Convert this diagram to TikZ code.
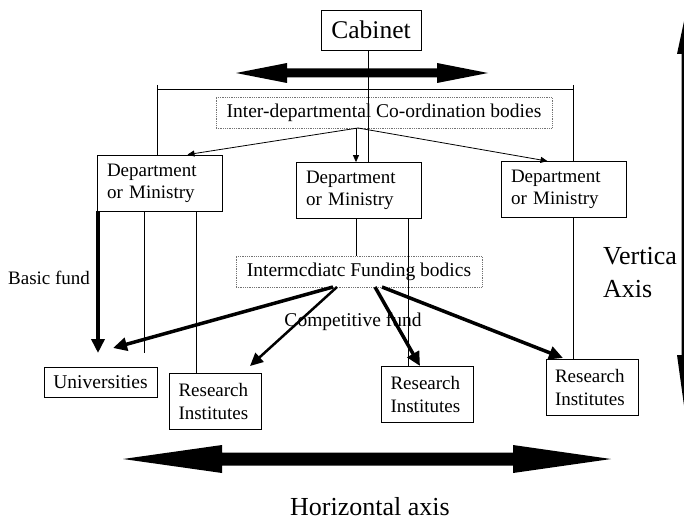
\documentclass[tikz,border=0pt]{standalone}
\usepackage{fontspec}
\setmainfont{Liberation Serif}
\usetikzlibrary{arrows.meta,calc}
\begin{document}
\begin{tikzpicture}[x=1pt,y=-1pt,
  box/.style={draw, line width=0.8pt, inner sep=0pt},
  dbox/.style={draw=black!55, densely dotted, line width=0.8pt, inner sep=0pt},
  dept/.style={box, minimum width=125pt, minimum height=56pt, text width=105pt, inner xsep=10pt, align=left, font=\fontsize{19}{22}\selectfont},
  ri/.style={box, minimum height=56pt, text width=74pt, inner xsep=9pt, align=left, font=\fontsize{19}{23}\selectfont},
  mid/.style={font=\fontsize{19.5}{23}\selectfont},
  big/.style={font=\fontsize{26}{33}\selectfont},
  thin/.style={line width=0.7pt},
  tarr/.style={line width=0.8pt, -{Triangle[length=7pt,width=6pt]}},
  barr/.style={line width=3.5pt, -{Triangle[length=14pt,width=13pt]}},
  marr/.style={line width=2.5pt, -{Triangle[length=13pt,width=12pt]}},
  ]
\useasboundingbox (0,0) rectangle (684,524);
\clip (0,0) rectangle (684,524);
\fill[white] (0,0) rectangle (684,524);

% big double arrows (decorative shapes)
\fill (236,73) -- (287,63) -- (287,68.5) -- (437,68.5) -- (437,63) -- (488,73)
  -- (437,83) -- (437,77.5) -- (287,77.5) -- (287,83) -- cycle;
\fill (123,459) -- (222,445) -- (222,452.5) -- (513,452.5) -- (513,445) -- (611,459)
  -- (513,473) -- (513,465.5) -- (222,465.5) -- (222,473) -- cycle;
\fill (686,12) -- (677,54) -- (681.5,54) -- (681.5,355) -- (677,355) -- (686,420)
  -- (695,355) -- (690.5,355) -- (690.5,54) -- (695,54) -- cycle;

% nodes
\node[box, minimum width=100pt, minimum height=40pt, font=\fontsize{25.5}{30}\selectfont] (cab) at (371,30) {Cabinet};
\node[dbox, mid, minimum width=336pt, minimum height=31pt] (idc) at (384,112.5) {Inter-departmental Co-ordination bodies};
\node[dept] (d1) at (159.5,183) {Department\\or Ministry};
\node[dept] (d2) at (358.5,190.5) {Department\\or Ministry};
\node[dept] (d3) at (563.5,189.5) {Department\\or Ministry};
\node[dbox, mid, minimum width=246pt, minimum height=31pt] (ifb) at (359,271.5) {Intermcdiatc Funding bodics};
\node[box, mid, minimum width=113pt, minimum height=30pt] (uni) at (100.5,382) {Universities};
\node[ri] (r1) at (215.5,401) {Research\\Institutes};
\node[ri] (r2) at (427.5,394) {Research\\Institutes};
\node[ri] (r3) at (592,387.5) {Research\\Institutes};

% labels
\node[font=\fontsize{19}{22}\selectfont, anchor=west, inner sep=0pt] (bf) at (8,278) {Basic fund};
\node[mid, inner sep=0pt] (cf) at (353,322) {Competitive fund};
\node[big, align=left, anchor=west, inner sep=0pt] (va) at (603,273) {Vertica\\Axis};
\node[big, inner sep=0pt] (ha) at (370,507) {Horizontal axis};

% coordinates
\coordinate (bl) at (157,89);
\coordinate (br) at (573,89);
\coordinate (cl) at (368,0);
\coordinate (ia) at (358,128);
\coordinate (ia2) at (356,128);
\coordinate (bft) at (98,353);
\coordinate (l1) at (144,353);
\coordinate (l2) at (196,0);
\coordinate (l3) at (408,0);
\coordinate (f1) at (333,287);
\coordinate (f2) at (337,287);
\coordinate (f3) at (375,287);
\coordinate (f4) at (382,287);
\coordinate (t1) at (113,348);
\coordinate (t2) at (250,366);
\coordinate (t3) at (420,366);
\coordinate (t4) at (563,358);

% cabinet line and bracket
\draw[thin] (cab.south -| cl) -- (d2.north -| cl);
\draw[thin] (bl) -- (br);
\draw[thin] ($(bl)+(0,-4)$) -- (d1.north -| bl);
\draw[thin] ($(br)+(0,-4)$) -- (d3.north -| br);

% co-ordination arrows
\draw[tarr] (ia) -- ($(d1.north)+(28,0)$);
\draw[tarr] (ia2) -- (d2.north -| ia2);
\draw[tarr] (ia) -- ($(d3.north)+(-16,0)$);

% vertical lines
\draw[barr] (d1.south -| bft) -- (bft);
\draw[thin] (d1.south -| l1) -- (l1);
\draw[thin] (d1.south -| l2) -- (r1.north -| l2);
\draw[thin] (d2.south -| ia2) -- (ifb.north -| ia2);
\draw[thin] (d2.south -| l3) -- (r2.north -| l3);
\draw[thin] (d3.south -| br) -- (r3.north -| br);

% funding arrows
\draw[barr] (f1) -- (t1);
\draw[marr] (f2) -- (t2);
\draw[barr] (f3) -- (t3);
\draw[barr] (f4) -- (t4);
\end{tikzpicture}
\end{document}
